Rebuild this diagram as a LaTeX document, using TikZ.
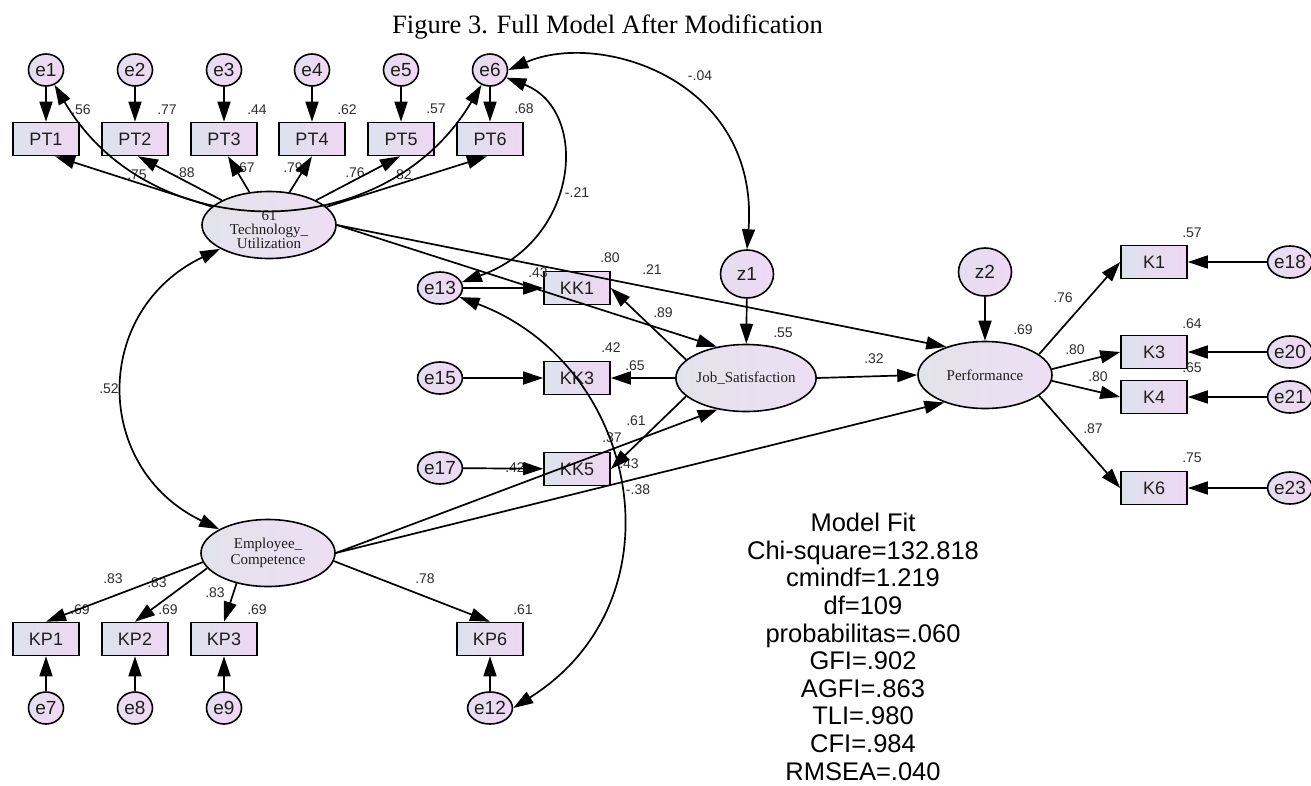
\documentclass[tikz,border=0pt]{standalone}
\usepackage{fontspec}
\setmainfont{Liberation Sans}
\newfontfamily\serifface{Liberation Serif}
\usetikzlibrary{arrows.meta,shapes.geometric}

\definecolor{boxL}{RGB}{222,226,238}
\definecolor{boxR}{RGB}{238,214,242}
\definecolor{latL}{RGB}{226,227,234}
\definecolor{latR}{RGB}{238,222,244}
\definecolor{errL}{RGB}{228,222,240}
\definecolor{errR}{RGB}{240,216,244}
\definecolor{ink}{RGB}{30,30,30}
\definecolor{lbl}{RGB}{45,45,45}

\begin{document}
\begin{tikzpicture}[x=1pt,y=-1pt,
  obsbox/.style={rectangle, draw=black, line width=1.6pt, minimum width=66pt,
    minimum height=33pt, inner sep=0pt, left color=boxL, right color=boxR,
    text=ink, font=\fontsize{18}{20}\selectfont},
  errc/.style={ellipse, draw=black, line width=1.6pt, minimum width=35pt,
    minimum height=32pt, inner sep=0pt, left color=errL, right color=errR,
    text=ink, font=\fontsize{19}{20}\selectfont},
  distc/.style={errc, minimum width=53pt, minimum height=48pt},
  latent/.style={ellipse, draw=black, line width=1.6pt, minimum width=134pt,
    minimum height=67pt, inner sep=0pt, left color=latL, right color=latR,
    text=ink, align=center, font=\serifface\fontsize{15}{16}\selectfont},
  lattext/.style={text=ink, align=center, inner sep=0pt,
    font=\serifface\fontsize{15}{14}\selectfont},
  reg/.style={line width=1.7pt, -{Triangle[length=20pt,width=13pt]}},
  cov/.style={line width=1.7pt,
    {Triangle[length=20pt,width=13pt]}-{Triangle[length=20pt,width=13pt]}},
  est/.style={text=lbl, font=\fontsize{14}{16}\selectfont, inner sep=0pt},
]
\useasboundingbox (0,0) rectangle (1311,785);

% title
\node[anchor=base west, inner sep=0pt, font=\serifface\fontsize{26.5}{30}\selectfont]
  (title) at (392,33) {Figure 3. Full Model After Modification};

% Technology_Utilization indicators
\foreach \i/\x in {1/46,2/135,3/224,4/312,5/401,6/490} {
  \node[errc] (e\i) at (\x,70) {e\i};
  \node[obsbox] (pt\i) at (\x,139) {PT\i};
}

% latent variables
\node[latent] (tech) at (269,225) {};
\node[lattext] (techname) at (269,236) {Technology\_\\Utilization};
\node[latent] (emp) at (268,553) {Employee\_\\Competence};
\node[latent] (js) at (746,378) {Job\_Satisfaction};
\node[latent] (perf) at (985,375) {Performance};
\node[distc] (z1) at (747,274) {z1};
\node[distc] (z2) at (985,272) {z2};

% Job_Satisfaction indicators
\node[errc] (e13) at (440,288) {e13};
\node[obsbox] (kk1) at (577,288) {KK1};
\node[errc] (e15) at (440,378) {e15};
\node[obsbox] (kk3) at (577,378) {KK3};
\node[errc] (e17) at (440,468) {e17};
\node[obsbox] (kk5) at (577,469) {KK5};

% Performance indicators
\foreach \k/\e/\y in {1/18/262,3/20/352,4/21/397,6/23/488} {
  \node[obsbox] (k\k) at (1154,\y) {K\k};
  \node[errc] (e\e) at (1290,\y) {e\e};
}

% Employee_Competence indicators
\foreach \k/\e/\x in {1/7/46,2/8/135,3/9/224,6/12/490} {
  \node[obsbox] (kp\k) at (\x,639) {KP\k};
  \node[errc] (e\e) at (\x,708) {e\e};
}

% estimates
\node[est] (r1) at (81,110) {.56};
\node[est] (r2) at (167,110) {.77};
\node[est] (r3) at (257,110) {.44};
\node[est] (r4) at (347,110) {.62};
\node[est] (r5) at (436,109) {.57};
\node[est] (r6) at (524,109) {.68};
\node[est] (w1) at (137,175) {.75};
\node[est] (w2) at (185,173) {.88};
\node[est] (w3) at (245,168) {.67};
\node[est] (w4) at (293,168) {.79};
\node[est] (w5) at (355,173) {.76};
\node[est] (w6) at (402,175) {.82};
\node[lattext, font=\serifface\fontsize{15}{16}\selectfont] (c16) at (269,216) {61};
\node[est] (c52) at (109,389) {.52};
\node[est] (c04) at (700,76) {-.04};
\node[est] (c21) at (577,193) {-.21};
\node[est] (rkk1) at (610,258) {.80};
\node[est] (btj) at (538,273) {.43};
\node[est] (btp) at (652,270) {.21};
\node[est] (wkk1) at (663,313) {.89};
\node[est] (rjs) at (783,333) {.55};
\node[est] (rkk3) at (611,348) {.42};
\node[est] (wkk3) at (635,366) {.65};
\node[est] (wkk5) at (636,421) {.61};
\node[est] (rkk5) at (612,438) {.37};
\node[est] (bep) at (629,464) {.43};
\node[est] (bej) at (515,468) {.42};
\node[est] (c38) at (638,490) {-.38};
\node[est] (bjp) at (874,359) {.32};
\node[est] (rperf) at (1023,330) {.69};
\node[est] (wk1) at (1063,298) {.76};
\node[est] (rk1) at (1192,233) {.57};
\node[est] (rk3) at (1192,324) {.64};
\node[est] (wk3) at (1075,350) {.80};
\node[est] (wk4) at (1098,377) {.80};
\node[est] (rk4) at (1192,368) {.65};
\node[est] (wk6) at (1093,429) {.87};
\node[est] (rk6) at (1192,458) {.75};
\node[est] (wkp1) at (113,579) {.83};
\node[est] (wkp2) at (157,583) {.83};
\node[est] (wkp3) at (215,593) {.83};
\node[est] (rkp1) at (80,610) {.69};
\node[est] (rkp2) at (168,610) {.69};
\node[est] (rkp3) at (257,610) {.69};
\node[est] (wkp6) at (425,579) {.78};
\node[est] (rkp6) at (523,610) {.61};

% model fit summary
\node[anchor=north, align=center, inner sep=0pt, font=\fontsize{25.5}{27.6}\selectfont]
  (fit) at (863,513) {Model Fit\\Chi-square=132.818\\cmindf=1.219\\df=109\\
  probabilitas=.060\\GFI=.902\\AGFI=.863\\TLI=.980\\CFI=.984\\RMSEA=.040};

% measurement paths
\foreach \i in {1,...,6} \draw[reg] (e\i) -- (pt\i);
\draw[reg] (tech) -- ([xshift=9pt]pt1.south);
\draw[reg] (tech) -- ([xshift=3pt]pt2.south);
\draw[reg] (tech) -- ([xshift=4pt]pt3.south);
\draw[reg] (tech) -- (pt4.south);
\draw[reg] (tech) -- ([xshift=-1pt]pt5.south);
\draw[reg] (tech) -- ([xshift=-3pt]pt6.south);

\draw[reg] (js.163) -- (kk1.east);
\draw[reg] (js.west) -- (kk3.east);
\draw[reg] (js.197) -- (kk5.east);
\draw[reg] (e13) -- (kk1);
\draw[reg] (e15) -- (kk3);
\draw[reg] (e17) -- (kk5);

\draw[reg] (perf.21) -- (k1.west);
\draw[reg] (perf.5) -- (k3.west);
\draw[reg] (perf.-5) -- (k4.west);
\draw[reg] (perf.-21) -- (k6.west);
\draw[reg] (e18) -- (k1);
\draw[reg] (e20) -- (k3);
\draw[reg] (e21) -- (k4);
\draw[reg] (e23) -- (k6);

\draw[reg] (emp.188) -- (kp1.north);
\draw[reg] (emp.194) -- (kp2.north);
\draw[reg] (emp.224) -- (kp3.north);
\draw[reg] (emp.-7) -- (kp6.north);
\draw[reg] (e7) -- (kp1);
\draw[reg] (e8) -- (kp2);
\draw[reg] (e9) -- (kp3);
\draw[reg] (e12) -- (kp6);

% structural paths
\draw[reg] (tech.east) -- (js.133);
\draw[reg] (tech.east) -- (perf.144);
\draw[reg] (emp.east) -- (js.228);
\draw[reg] (emp.east) -- (perf.214);
\draw[reg] (js.east) -- (perf.west);
\draw[reg] (z1) -- (js);
\draw[reg] (z2) -- (perf);

% covariances
\draw[cov] (e1.-60) .. controls (150,248) and (385,248) .. (e6.240);
\draw[cov] (e6.east) .. controls (600,30) and (760,80) .. (z1.north);
\draw[cov] (e6.-25) .. controls (590,110) and (580,240) .. (e13.15);
\draw[cov] (e13.-25) .. controls (640,365) and (685,600) .. (e12.east);
\draw[cov] (tech.206) .. controls (92,310) and (92,468) .. (emp.154);
\end{tikzpicture}
\end{document}
